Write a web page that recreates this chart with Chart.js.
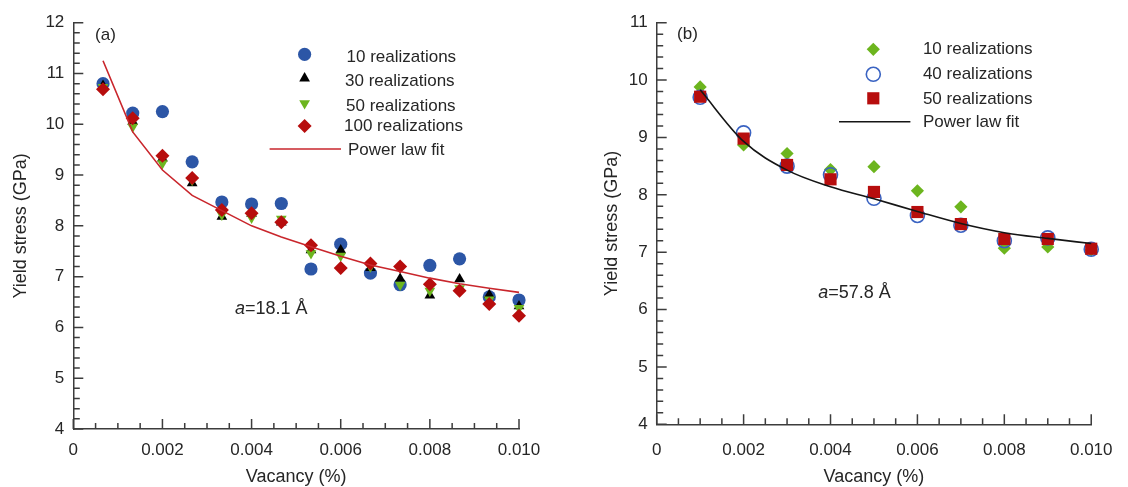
<!DOCTYPE html>
<html>
<head>
<meta charset="utf-8">
<script src="https://cdn.jsdelivr.net/npm/chart.js@4.4.1/dist/chart.umd.min.js"></script>
<style>
  html, body { margin: 0; padding: 0; background: #fff; }
  #wrap { position: relative; width: 1128px; height: 487px; }
  canvas { position: absolute; top: 0; }
  #chartA { left: 0; }
  #chartB { left: 564px; }
</style>
</head>
<body>
<div id="wrap">
  <canvas id="chartA" width="564" height="487"></canvas>
  <canvas id="chartB" width="564" height="487"></canvas>
</div>
<script>
// ---- panel (a), a = 18.1 Å ----
const vacancyA = [0.000667, 0.001333, 0.002, 0.002667, 0.003333, 0.004, 0.004667, 0.005333,
                  0.006, 0.006667, 0.007333, 0.008, 0.008667, 0.009333, 0.010];
const real10A  = [10.80, 10.22, 10.25, 9.26, 8.47, 8.43, 8.44, 7.15, 7.64, 7.07, 6.84, 7.22, 7.35, 6.60, 6.54];
const real30A  = [10.76, 10.05, 9.33, 8.84, 8.18, 8.24, 8.07, 7.52, 7.52, 7.17, 6.96, 6.63, 6.95, 6.64, 6.42];
const real50A  = [10.73, 9.95, 9.23, 8.90, 8.22, 8.16, 8.14, 7.46, 7.41, 7.20, 6.84, 6.72, 6.77, 6.55, 6.38];
const real100A = [10.69, 10.12, 9.38, 8.94, 8.31, 8.25, 8.07, 7.62, 7.17, 7.26, 7.20, 6.85, 6.72, 6.46, 6.23];
const fitA     = [11.25, 9.85, 9.10, 8.60, 8.30, 8.00, 7.78, 7.59, 7.40, 7.23, 7.10, 6.97, 6.86, 6.77, 6.69];

// ---- panel (b), a = 57.8 Å ----
const vacancyB = [0.001, 0.002, 0.003, 0.004, 0.005, 0.006, 0.007, 0.008, 0.009, 0.010];
const real10B  = [9.88, 8.87, 8.72, 8.44, 8.49, 8.07, 7.79, 7.07, 7.09, 7.04];
const real40B  = [9.70, 9.08, 8.50, 8.35, 7.94, 7.64, 7.47, 7.20, 7.25, 7.05];
const real50B  = [9.71, 8.98, 8.52, 8.27, 8.05, 7.70, 7.49, 7.23, 7.23, 7.06];
const fitB     = [9.83, 8.93, 8.43, 8.14, 7.93, 7.71, 7.50, 7.34, 7.24, 7.15];

const FONT = '"Liberation Sans", Arial, sans-serif';
const TXT = '#262626';
const AXIS = '#3c3c3c';

const pts = (xs, ys) => xs.map((x, i) => ({ x, y: ys[i] }));

// tick marks pointing into the plot, long at labelled ticks
const innerTicks = {
  id: 'innerTicks',
  afterDraw(chart) {
    const { ctx, chartArea: a, scales } = chart;
    ctx.save();
    ctx.strokeStyle = AXIS;
    ctx.lineWidth = 1.5;
    ctx.beginPath();
    scales.x.ticks.forEach(t => {
      const px = scales.x.getPixelForValue(t.value);
      const len = t.label ? 10 : 6;
      ctx.moveTo(px, a.bottom); ctx.lineTo(px, a.bottom - len);
    });
    scales.y.ticks.forEach(t => {
      const py = scales.y.getPixelForValue(t.value);
      const len = t.label ? 10 : 6.5;
      ctx.moveTo(a.left, py); ctx.lineTo(a.left + len, py);
    });
    ctx.stroke();
    ctx.restore();
  }
};

// panel tag, annotation and the legend box
const panelText = {
  id: 'panelText',
  afterDraw(chart, args, o) {
    const ctx = chart.ctx;
    ctx.save();
    ctx.fillStyle = TXT;
    ctx.textBaseline = 'middle';
    ctx.textAlign = 'center';
    ctx.font = '17px ' + FONT;
    ctx.fillText(o.tag, o.tagX, o.tagY);

    ctx.textAlign = 'left';
    ctx.font = 'italic 18px ' + FONT;
    ctx.fillText('a', o.noteX, o.noteY);
    const w = ctx.measureText('a').width;
    ctx.font = '18px ' + FONT;
    ctx.fillText(o.note, o.noteX + w, o.noteY);

    ctx.font = '17px ' + FONT;
    chart.data.datasets.forEach((ds, i) => {
      const r = o.rows[i];
      if (ds.showLine) {
        ctx.strokeStyle = ds.borderColor;
        ctx.lineWidth = ds.borderWidth;
        ctx.beginPath();
        ctx.moveTo(o.lineX1, r.my); ctx.lineTo(o.lineX2, r.my);
        ctx.stroke();
      } else {
        ctx.fillStyle = ds.pointBackgroundColor;
        ctx.strokeStyle = ds.pointBorderColor;
        ctx.lineWidth = ds.pointBorderWidth;
        Chart.helpers.drawPoint(ctx, {
          pointStyle: ds.pointStyle, rotation: ds.pointRotation || 0,
          radius: ds.pointRadius, borderWidth: ds.pointBorderWidth
        }, o.markX, r.my);
      }
      ctx.fillStyle = TXT;
      ctx.fillText(ds.label, r.tx, r.ty);
    });
    ctx.restore();
  }
};

function marker(label, data, style, fill, radius, order, extra) {
  return Object.assign({
    label, data, order,
    clip: false,
    showLine: false,
    pointStyle: style,
    pointRadius: radius,
    pointHoverRadius: radius,
    pointBackgroundColor: fill,
    pointBorderColor: fill,
    pointBorderWidth: 0
  }, extra || {});
}

function fitLine(data, color) {
  return {
    label: 'Power law fit', data, order: 0,
    clip: false,
    showLine: true, borderColor: color, borderWidth: 1.6,
    pointRadius: 0, tension: 0, fill: false
  };
}

function xTick(v) {
  const r = v / 0.002;
  if (Math.abs(r - Math.round(r)) > 1e-6) return '';
  return Math.round(r) === 0 ? '0' : (Math.round(r) * 0.002).toFixed(3);
}
function yTick(v) {
  return Math.abs(v - Math.round(v)) < 1e-6 ? String(Math.round(v)) : '';
}

function makeOptions(cfg) {
  return {
    responsive: false,
    animation: false,
    events: [],
    layout: { padding: { left: 0, top: cfg.top, right: cfg.right, bottom: 0 } },
    plugins: {
      legend: { display: false },
      tooltip: { enabled: false },
      panelText: cfg.text
    },
    scales: {
      x: {
        type: 'linear', min: 0, max: 0.010,
        grid: { display: false, drawTicks: false },
        border: { display: true, color: AXIS, width: 1.5 },
        ticks: {
          stepSize: 0.0005, autoSkip: false, maxRotation: 0, includeBounds: true,
          padding: cfg.xPad, color: TXT, font: { family: FONT, size: 17 },
          callback: xTick
        },
        title: {
          display: true, text: 'Vacancy (%)', color: TXT,
          font: { family: FONT, size: 18, lineHeight: 1 }, padding: { top: 0, bottom: 1 }
        },
        afterFit: s => { s.height = cfg.xH; }
      },
      y: {
        type: 'linear', min: 4, max: cfg.yMax,
        grid: { display: false, drawTicks: false },
        border: { display: true, color: AXIS, width: 1.5 },
        ticks: {
          stepSize: 0.2, autoSkip: false, padding: 9, color: TXT,
          font: { family: FONT, size: 17 }, callback: yTick
        },
        title: {
          display: true, text: 'Yield stress (GPa)', color: TXT,
          font: { family: FONT, size: 18, lineHeight: 1.2 }, padding: { top: cfg.yTitlePad, bottom: 0 }
        },
        afterFit: s => { s.width = cfg.yW; }
      }
    }
  };
}

const green = '#6cb51e', blue = '#2c56a6', darkRed = '#b70d0d';

new Chart(document.getElementById('chartA'), {
  type: 'scatter',
  data: {
    datasets: [
      marker('10 realizations', pts(vacancyA, real10A), 'circle', blue, 6.6, 4),
      marker('30 realizations', pts(vacancyA, real30A), 'triangle', '#000000', 6.2, 3),
      marker('50 realizations', pts(vacancyA, real50A), 'triangle', green, 6.2, 2, { pointRotation: 180 }),
      marker('100 realizations', pts(vacancyA, real100A), 'rectRot', darkRed, 7, 1),
      fitLine(pts(vacancyA, fitA), '#c9262c')
    ]
  },
  options: makeOptions({
    top: 22.7, right: 45, xH: 58, yW: 73.3, yMax: 12, xPad: 10.8, yTitlePad: 10.6,
    text: {
      tag: '(a)', tagX: 105.5, tagY: 35,
      note: '=18.1 Å', noteX: 235, noteY: 309,
      markX: 304.6, lineX1: 269.6, lineX2: 341,
      rows: [
        { my: 54.3, tx: 346.5, ty: 57.3 },
        { my: 78.3, tx: 345, ty: 81.7 },
        { my: 103.3, tx: 346, ty: 106 },
        { my: 126, tx: 344, ty: 126.7 },
        { my: 149, tx: 348, ty: 150.7 }
      ]
    }
  }),
  plugins: [innerTicks, panelText]
});

new Chart(document.getElementById('chartB'), {
  type: 'scatter',
  data: {
    datasets: [
      marker('10 realizations', pts(vacancyB, real10B), 'rectRot', green, 6.6, 3),
      marker('40 realizations', pts(vacancyB, real40B), 'circle', 'rgba(0,0,0,0)', 7, 2,
             { pointBorderColor: '#3a63c2', pointBorderWidth: 1.6 }),
      marker('50 realizations', pts(vacancyB, real50B), 'rect', darkRed, 8.6, 1),
      Object.assign(fitLine(pts(vacancyB, fitB), '#151515'), { cubicInterpolationMode: 'monotone' })
    ]
  },
  options: makeOptions({
    top: 22.7, right: 24.7, xH: 62.7, yW: 92.7, yMax: 11, xPad: 15.5, yTitlePad: 37.2,
    text: {
      tag: '(b)', tagX: 123.5, tagY: 34,
      note: '=57.8 Å', noteX: 254.3, noteY: 293.3,
      markX: 309.3, lineX1: 275, lineX2: 346.4,
      rows: [
        { my: 49.3, tx: 358.9, ty: 49 },
        { my: 74.3, tx: 358.9, ty: 74 },
        { my: 98.3, tx: 358.9, ty: 99.3 },
        { my: 121.7, tx: 358.9, ty: 122.3 }
      ]
    }
  }),
  plugins: [innerTicks, panelText]
});
</script>
</body>
</html>
